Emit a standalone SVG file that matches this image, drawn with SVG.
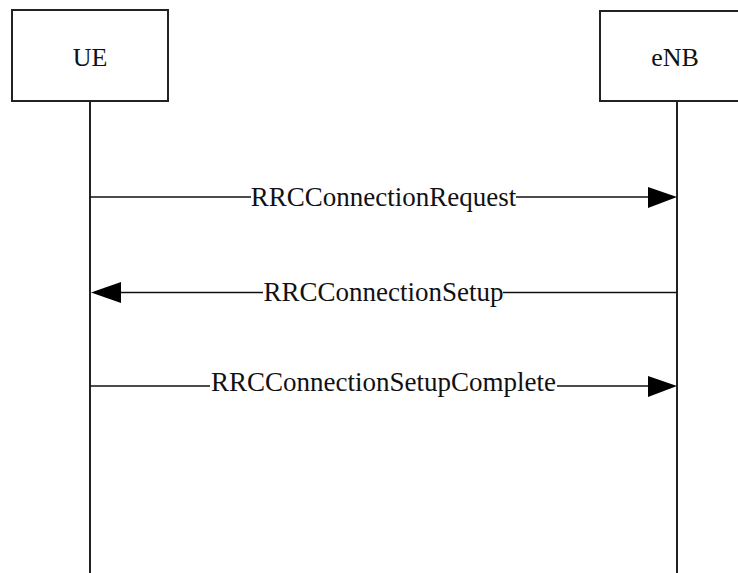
<svg xmlns="http://www.w3.org/2000/svg" width="738" height="573" viewBox="0 0 738 573">
<defs>
<style>
.box{fill:#fff;stroke:#222;stroke-width:2}
.life{stroke:#222;stroke-width:2}
.msg{stroke:#111;stroke-width:1.6;fill:none}
.head{fill:#000}
.lbl{font-family:'Liberation Serif','Times New Roman',serif;font-size:27px;fill:#111;text-anchor:middle}
.node{font-size:26px}
.bg{fill:#fff}
</style>
</defs>
<rect width="738" height="573" fill="#fff"/>
<g id="UE">
<line class="life" x1="90" y1="101" x2="90" y2="573"/>
<rect class="box" x="12" y="10" width="156" height="91"/>
<text class="lbl node" x="90" y="66">UE</text>
</g>
<g id="eNB">
<line class="life" x1="677" y1="101" x2="677" y2="573"/>
<rect class="box" x="600" y="11" width="156" height="90"/>
<text class="lbl node" x="675" y="66">eNB</text>
</g>
<g id="connectors">
<g id="m1">
<line class="msg" x1="90" y1="197" x2="650" y2="197"/>
<polygon class="head" points="648,187 677,197 648,208"/>
<rect class="bg" x="251" y="185" width="265" height="24"/>
<text class="lbl" x="383.5" y="206">RRCConnectionRequest</text>
</g>
<g id="m2">
<line class="msg" x1="120" y1="292.5" x2="677" y2="292.5"/>
<polygon class="head" points="121,282 91,292.5 121,303"/>
<rect class="bg" x="263" y="280" width="240" height="24"/>
<text class="lbl" x="383.5" y="301">RRCConnectionSetup</text>
</g>
<g id="m3">
<line class="msg" x1="90" y1="386" x2="650" y2="386"/>
<polygon class="head" points="648,376 677,386 648,397"/>
<rect class="bg" x="210" y="370" width="347" height="23"/>
<text class="lbl" x="383.5" y="391">RRCConnectionSetupComplete</text>
</g>
</g>
</svg>
